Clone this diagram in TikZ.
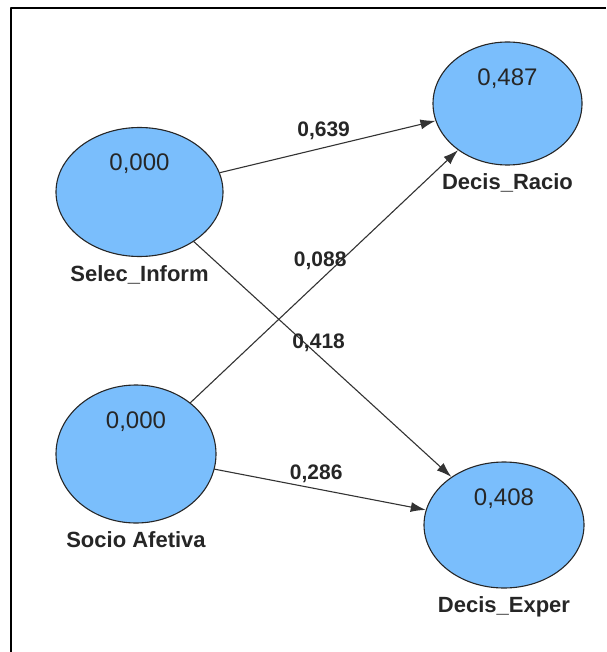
\documentclass[tikz,border=0pt]{standalone}
\usepackage{fontspec}
\setmainfont{Liberation Sans}
\usetikzlibrary{arrows.meta,positioning,shapes.geometric}
\definecolor{lvblue}{RGB}{122,190,252}
\begin{document}
\begin{tikzpicture}[x=1pt, y=-1pt, >={Latex[length=15pt,width=10pt]}, line join=round, line cap=round,
	latent/.style={ellipse, draw=black!85, line width=1.1pt, fill=lvblue, inner sep=0pt},
	rsq/.style={font=\fontsize{24pt}{28pt}\selectfont, text=black!85, inner sep=0pt},
	lvname/.style={font=\fontsize{22pt}{26pt}\selectfont\bfseries, text=black!85, inner sep=0pt},
	pathline/.style={->, draw=black!80, line width=1.1pt},
	coef/.style={midway, xshift=-4pt, yshift=16pt, font=\fontsize{21pt}{25pt}\selectfont\bfseries, text=black!85, inner sep=0pt}]
	\useasboundingbox (0,0) rectangle (606,652);
	% --- Moldura ---
	\draw[line width=2.6pt, line cap=butt] (11,652) -- (11,8) -- (606,8);
	% --- Variaveis latentes ---
	\node[latent, minimum width=167pt, minimum height=129pt] (selec) at (139.5,192) {};
	\node[latent, minimum width=149pt, minimum height=123pt] (racio) at (507.5,103.5) {};
	\node[latent, minimum width=160pt, minimum height=138pt] (socio) at (136,454) {};
	\node[latent, minimum width=160pt, minimum height=126pt] (exper) at (504,525) {};
	% --- R2 ---
	\node[rsq, below=27pt of selec.north] (selecR) {0,000};
	\node[rsq, below=27pt of racio.north] (racioR) {0,487};
	\node[rsq, below=27pt of socio.north] (socioR) {0,000};
	\node[rsq, below=27pt of exper.north] (experR) {0,408};
	% --- Nomes ---
	\node[lvname, below=8pt of selec.south] (selecN) {Selec\_Inform};
	\node[lvname, below=8pt of racio.south] (racioN) {Decis\_Racio};
	\node[lvname, below=8pt of socio.south] (socioN) {Socio Afetiva};
	\node[lvname, below=8pt of exper.south] (experN) {Decis\_Exper};
	% --- Coeficientes ---
	\draw[pathline] (selec) -- (racio) node[coef] (c1) {0,639};
	\draw[pathline] (socio) -- (racio) node[coef] (c2) {0,088};
	\draw[pathline] (selec) -- (exper) node[coef] (c3) {0,418};
	\draw[pathline] (socio) -- (exper) node[coef] (c4) {0,286};
\end{tikzpicture}
\end{document}
